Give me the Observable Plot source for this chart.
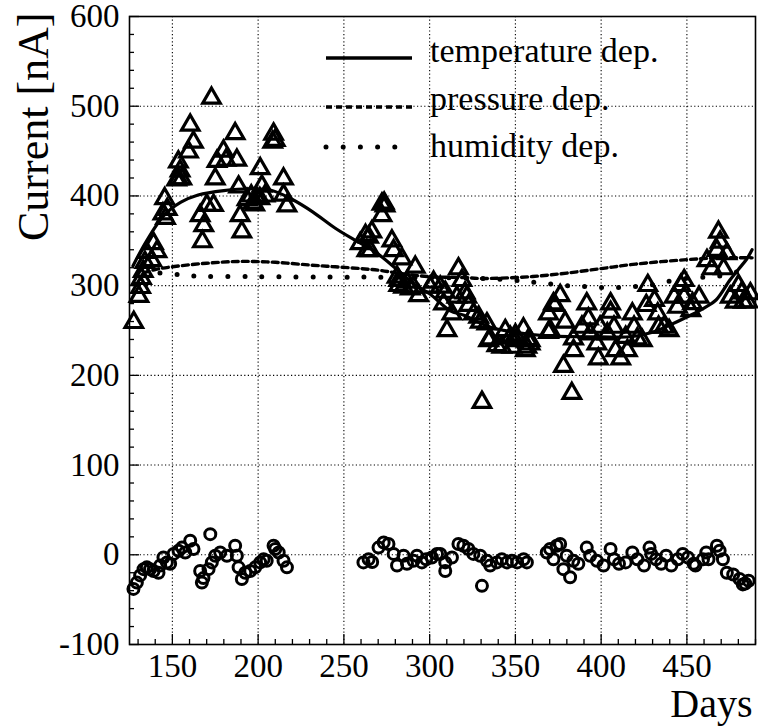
<!DOCTYPE html>
<html><head><meta charset="utf-8">
<script src="https://cdn.jsdelivr.net/npm/d3@7"></script>
<script src="https://cdn.jsdelivr.net/npm/@observablehq/plot@0.6"></script>
<style>
body{margin:0;background:#fff;}
#wrap{position:relative;width:758px;height:727px;}
#legend{position:absolute;left:0;top:0;}
</style></head><body><div id="wrap"></div>
<script>
// ---- data ----
const triangleDays = [127.5,130.5,131.5,132,133,134,135,138,139,141,144.5,145.5,147,146,153.5,154.5,153.5,155.5,152.5,160.4,162.3,159.4,172.8,167.5,168.3,166.2,170.1,174,175,176,179.8,181.3,186.6,187.6,188.6,189.5,190.5,193.5,196,197,199,198,201.2,202.2,201,204,209,210,208.5,214.8,214.8,216.8,
 259.5,262.6,264.4,266.3,265.4,263.4,272.2,273.5,274,272.2,278,279,283.8,291.6,281,282,282,284.8,286.8,288.7,290.6,293.6,300.3,302.3,306.2,309.1,308.1,313,310.1,316.8,318.8,315.9,320.7,321.7,322.7,325.6,328.6,329.5,333.4,334.4,335.3,339.2,342.1,344.1,347,348,349.9,350,354.7,355.8,356.7,357.7,358.6,358.6,330.5,
 369.3,370.3,369.3,372.2,373.2,376.1,379,383.9,383.9,378,382.9,388.8,391.6,392.6,393.6,397.5,398.4,399.4,405.5,405.5,403.6,407.5,408.4,411.4,414.3,415.3,418.2,419.2,421.1,424,427.2,426.3,431.1,433,433.5,436.7,439.6,442.6,444.5,446.4,448.4,448.4,452.3,453.3,457.1,468.4,469.4,467.5,461.7,464.6,471.4,473.3,475.3,478.2,480.1,482,483,487,485.5];
const triangleCurrent = [259,288,298,308,316,326,337,328,347,338,380,397,385,375,438,428,419,419,418,479,460,449,509,349,367,378,389.5,389.5,419,438.5,450,440,469.5,440,410,378,360,396,400,392,398,390,430.5,411,397,400,469,462,460,419,401,389,
 347,356,354,360,339,339,391,392,389,378,350,339,330,320.6,309.5,305.8,300.2,298.3,304,296.5,298.3,289,298.3,304,298.3,292.7,279.8,268.6,250,318.9,305.8,287.2,292,287.2,278,268.6,265,259.3,257.5,238.8,240.7,233.3,231.4,250,242.5,231.4,238.8,245,251.9,227.7,231.4,240,238.8,235,170,
 268.6,250,248,279.8,278,289,259.3,240.7,227.7,210,180,253.7,279.8,263,246.3,235.2,218.4,253.7,279.8,270.4,246.3,253.7,227.7,218.4,242.5,227.7,268.6,253.7,240.7,238.8,300.2,277.9,283.5,268.6,253.7,253.7,250,287.2,276,300.2,287.2,305.8,272.3,280,287.2,359.7,348.5,339.3,328,318.9,318.9,335.6,287.2,281.6,300.2,292,281.6,291,282];

const circleDays = [127.3,129.3,131.2,133.2,135.1,137,139,141.9,142.9,144.8,146.8,148.7,150.7,153.6,155.6,157.5,160.4,162.3,172.1,166.2,167.2,168.1,171.1,173,175,177.9,181.8,186.6,187.6,188.6,190.5,192.5,195.4,198.3,201.2,203.2,205,209,210,212,214.8,216.8,
 261.4,264.4,266.5,270.2,273.2,276,279,281,284.8,286.8,290.6,292.6,295.5,298,301.3,304.3,306.2,309.1,309.1,313,316.8,319.7,322.6,325.5,329.5,330.5,333.4,335.3,339.2,342.1,345,348,351,354.8,356.7,368.3,370.2,372.2,374.1,376.1,378,379.9,381.9,383.8,386.7,391.6,393.6,397.5,401.4,405.5,407.5,410.4,414.3,418.2,421.1,425,428.2,429.2,432,435,437.9,440.9,444.7,447.6,450.6,453.9,455,459.4,461.3,462.6,467.5,469.1,471,473.3,477,480.7,482.6,484,486];
const circleCurrent = [-38,-31,-23,-16,-14,-16,-18,-20,-12,-3,-8.5,-10,1,4.5,8,2.6,15.6,6.4,23,-18,-31,-26,-16,-8.5,-1,2.6,-1,10,-1,-14,-27,-20,-18,-14,-8.5,-5,-6.7,10,6.4,2.6,-6.7,-14,
 -8.5,-5,-8,8,13.7,12,1,-12,-1,-10,-6.7,-1,-8.5,-5,-3,1,1,-8.5,-18,-3,12,10,6.4,1,-1,-34.6,-6.7,-12,-8.5,-5,-8.5,-6.7,-8.5,-5,-8.5,2.6,6.4,-5,10,12,-16,-1,-25,-6.7,-10,8,-1,-6.7,-12,6.4,-5,-10,-8.5,2.6,-5,-12,8,1,-5,-10,-1,-12,-5,1,-3,-10,-12,-5,2.6,-5,10,4.5,-5,-20,-22,-27,-33,-32,-29];

const tempFitDays = [127,135,145,155,165,180,195,208,220,232,245,258,268,281,292,300,312,320,335,350,368,400,417,430,440,450,460,467,475,480,485,488];
const tempFitCurrent = [322,350,378,393,401,406,408,406,396,382,364,349,338,318,300,291,272,267,254,248,244,243,243,248,256,265,275,284,306,318,330,340];

const presFitDays = [133,140,150,170,190,210,230,245,260,271,285,300,320,330,350,365,380,400,420,450,470,488];
const presFitCurrent = [314,318,321,325,327,326,323,321,319,317,313,310,309,308,309,311,314,319,324,329,331,331];

const humFitDays = [133,140,150,160,200,250,270,300,330,350,360,370,380,390,400,410,420,430,440,450,460,470,480,486];
const humFitCurrent = [312,314,313,311,310,309.5,309.5,309,308,306,304,302,300,299,298,298,299,301,305,308,309.5,311,316,324];

const xMajorTicks = [150,200,250,300,350,400,450];
const yMajorTicks = [-100,0,100,200,300,400,500,600];
const yGridValues = [0,100,200,300,400,500];
const xMinorTicks = d3.range(130, 491, 10);
const yMinorTicks = d3.range(-100, 601, 20);
const legendLabels = ["temperature dep.","pressure dep.","humidity dep."];
const xTitle = "Days";
const yTitle = "Current [nA]";

// ---- tables ----
const zip = (xs, ys) => xs.map((x, i) => ({x, y: ys[i]}));
const triangles = zip(triangleDays, triangleCurrent);
const circles = zip(circleDays, circleCurrent);
const tempFit = zip(tempFitDays, tempFitCurrent);
const presFit = zip(presFitDays, presFitCurrent);
const humFit = zip(humFitDays, humFitCurrent);

const serif = "'Liberation Serif','Times New Roman',Times,serif";
const X0 = 125, X1 = 490, Y0 = -100, Y1 = 600;
const ML = 129, MR = 3, MT = 16, MB = 83, W = 758, H = 727;
const pxPerX = (W - ML - MR) / (X1 - X0);
const pxPerY = (H - MT - MB) / (Y1 - Y0);
const xTickLen = (px) => px / pxPerY;   // vertical ticks on the x axis, in y units
const yTickLen = (px) => px / pxPerX;   // horizontal ticks on the y axis, in x units
const isXMajor = d => d % 50 === 0;
const isYMajor = d => d % 100 === 0;

const chart = Plot.plot({
  width: W, height: H,
  marginLeft: ML, marginRight: MR, marginTop: MT, marginBottom: MB,
  style: {fontFamily: serif, fontSize: "33px", background: "white", color: "black"},
  x: {domain: [X0, X1], ticks: xMajorTicks, tickSize: 0, tickPadding: 9, tickFormat: d => String(d), label: null},
  y: {domain: [Y0, Y1], ticks: yMajorTicks, tickSize: 0, tickPadding: 10, tickFormat: d => String(d), label: null},
  marks: [
    Plot.ruleX(xMajorTicks, {x: d => d, stroke: "black", strokeWidth: 1.1, strokeDasharray: "1.2,2.4"}),
    Plot.ruleY(yGridValues, {y: d => d, stroke: "black", strokeWidth: 1.1, strokeDasharray: "1.2,2.4"}),
    Plot.ruleX(xMinorTicks, {x: d => d, y1: Y0, y2: d => Y0 + xTickLen(isXMajor(d) ? 10 : 5), stroke: "black", strokeWidth: 1.3}),
    Plot.ruleY(yMinorTicks, {y: d => d, x1: X0, x2: d => X0 + yTickLen(isYMajor(d) ? 10 : 5), stroke: "black", strokeWidth: 1.3}),
    Plot.dot(triangles, {x: "x", y: "y", symbol: "triangle", r: 6.5, stroke: "black", strokeWidth: 3.2, fill: "none"}),
    Plot.dot(circles, {x: "x", y: "y", symbol: "circle", r: 5.5, stroke: "black", strokeWidth: 3, fill: "none"}),
    Plot.line(tempFit, {x: "x", y: "y", stroke: "black", strokeWidth: 3.2, curve: "catmull-rom"}),
    Plot.line(presFit, {x: "x", y: "y", stroke: "black", strokeWidth: 3.4, strokeDasharray: "6,4", curve: "catmull-rom"}),
    Plot.line(humFit, {x: "x", y: "y", stroke: "black", strokeWidth: 5, strokeDasharray: "0,17", strokeLinecap: "round", curve: "catmull-rom"}),
    Plot.frame({stroke: "black", strokeWidth: 1.6}),
    Plot.text([yTitle], {text: d => d, frameAnchor: "top-left", rotate: -90, textAnchor: "end", lineAnchor: "bottom", dx: -82, dy: -4, fontSize: 44, fontFamily: serif}),
    Plot.text([xTitle], {text: d => d, frameAnchor: "bottom-right", textAnchor: "end", lineAnchor: "bottom", dx: -3, dy: 72, fontSize: 40, fontFamily: serif})
  ]
});
const wrap = document.getElementById("wrap");
wrap.appendChild(chart);

// ---- legend overlay (inside the frame, top right) ----
const ns = "http://www.w3.org/2000/svg";
const lg = document.createElementNS(ns, "svg");
lg.setAttribute("id", "legend");
lg.setAttribute("width", W); lg.setAttribute("height", 200);
const legendStyles = [
  {dash: null, width: 3.4, cap: "butt"},
  {dash: "6,4", width: 3.4, cap: "butt"},
  {dash: "0,17.2", width: 5, cap: "round"}
];
const rowLineY = [58, 107, 147];
const rowTextY = [62, 110, 157];
legendLabels.forEach((lab, i) => {
  const s = legendStyles[i];
  const l = document.createElementNS(ns, "line");
  l.setAttribute("x1", 326); l.setAttribute("x2", 412);
  l.setAttribute("y1", rowLineY[i]); l.setAttribute("y2", rowLineY[i]);
  l.setAttribute("stroke", "black"); l.setAttribute("stroke-width", s.width);
  l.setAttribute("stroke-linecap", s.cap);
  if (s.dash) l.setAttribute("stroke-dasharray", s.dash);
  lg.appendChild(l);
  const t = document.createElementNS(ns, "text");
  t.setAttribute("x", 430); t.setAttribute("y", rowTextY[i]);
  t.setAttribute("font-family", serif); t.setAttribute("font-size", 34);
  t.textContent = lab;
  lg.appendChild(t);
});
wrap.appendChild(lg);
</script>
</body></html>
